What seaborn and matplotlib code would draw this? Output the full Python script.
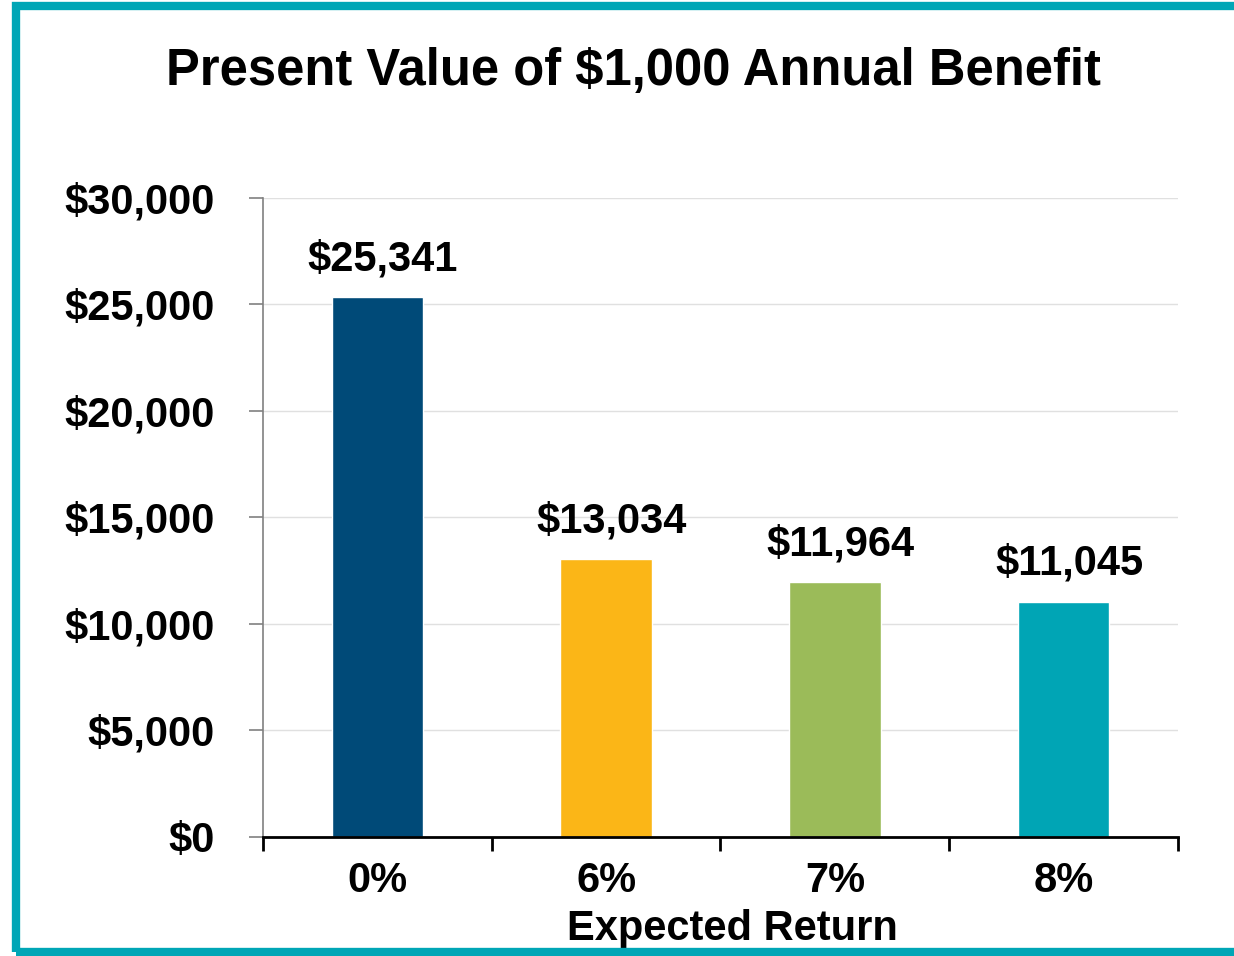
import pandas as pd
import seaborn as sns
import matplotlib.pyplot as plt
from matplotlib.patches import Rectangle
from matplotlib.ticker import FuncFormatter

returns = ['0%', '6%', '7%', '8%']
present_values = [25341, 13034, 11964, 11045]
bar_colors = ['#004A78', '#FBB617', '#9BBB59', '#00A5B5']
y_ticks = [0, 5000, 10000, 15000, 20000, 25000, 30000]

df = pd.DataFrame({'Expected Return': returns, 'Present Value': present_values})

sns.set_style('white')
plt.rcParams['font.family'] = ['Liberation Sans', 'DejaVu Sans']
plt.rcParams['font.weight'] = 'bold'
plt.rcParams['text.color'] = 'black'
plt.rcParams['axes.labelcolor'] = 'black'

fig = plt.figure(figsize=(12.34, 9.56), dpi=100)
ax = fig.add_axes([0.2131, 0.1245, 0.7415, 0.6684])

sns.barplot(data=df, x='Expected Return', y='Present Value', hue='Expected Return',
            palette=bar_colors, width=0.4, legend=False, saturation=1, ax=ax)

ax.set_xlim(-0.5, 3.5)
ax.set_ylim(0, 30000)
ax.set_yticks(y_ticks)
ax.yaxis.set_major_formatter(FuncFormatter(lambda v, p: f'${v:,.0f}'))
ax.grid(axis='y', color='#E0E0E0', linewidth=1)
ax.set_axisbelow(True)

for s in ['top', 'right']:
    ax.spines[s].set_visible(False)
ax.spines['left'].set_color('#808080')
ax.spines['left'].set_linewidth(1.2)
ax.spines['bottom'].set_color('black')
ax.spines['bottom'].set_linewidth(2)

# ticks between categories on x, outward ticks on y
ax.set_xticks([-0.5, 0.5, 1.5, 2.5, 3.5], minor=True)
ax.tick_params(axis='x', which='minor', bottom=True, length=10, width=2,
               color='black', direction='out')
ax.tick_params(axis='x', which='major', bottom=True, length=0, pad=17,
               labelsize=30, labelcolor='black')
ax.tick_params(axis='y', left=True, length=10, width=1.2, color='#808080',
               direction='out', pad=25, labelsize=30, labelcolor='black')
for lbl in ax.get_xticklabels() + ax.get_yticklabels():
    lbl.set_fontweight('bold')

ax.set_xlabel('Expected Return', fontsize=30, fontweight='bold', labelpad=6)
ax.xaxis.label.set_x(0.513)
ax.set_ylabel('')

for i, v in enumerate(present_values):
    ax.annotate(f'${v:,}', (i, v), xytext=(4, 13), textcoords='offset points',
                ha='center', va='bottom', fontsize=30, fontweight='bold')

fig.text(0.513, 0.925, 'Present Value of $1,000 Annual Benefit', ha='center', va='center',
         fontsize=36.5, fontweight='bold')

# teal frame
fig.patches.append(Rectangle((16 / 1234, 4 / 956), 1.2, 1 - 10 / 956,
                             transform=fig.transFigure, fill=False,
                             edgecolor='#00A6B6', linewidth=6, zorder=10))

fig.savefig('out.png', dpi=100, facecolor='white')
